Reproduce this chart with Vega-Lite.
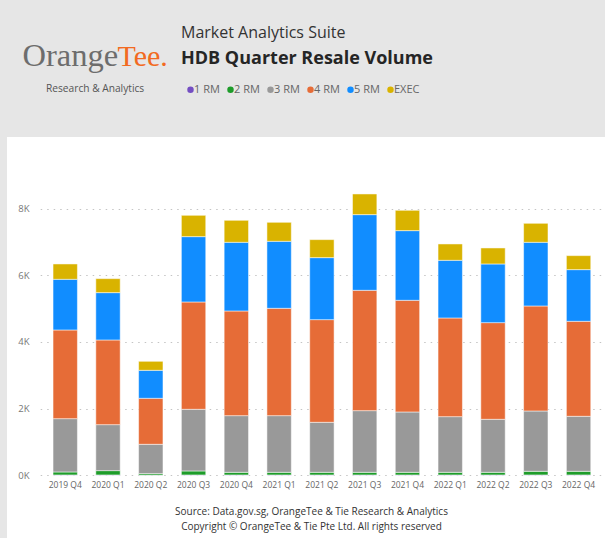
{
  "$schema": "https://vega.github.io/schema/vega-lite/v6.json",
  "width": 598,
  "height": 401,
  "autosize": {"type": "none"},
  "padding": {"left": 7, "top": 137, "right": 0, "bottom": 0},
  "background": "#e6e6e6",
  "view": {"fill": "#ffffff", "stroke": null},
  "config": {"font": "Open Sans"},
  "title": {
    "text": "Market Analytics Suite",
    "subtitle": "HDB Quarter Resale Volume",
    "anchor": "start",
    "frame": "group",
    "orient": "top",
    "dx": 174,
    "offset": -29,
    "font": "Open Sans",
    "fontSize": 16,
    "fontWeight": "normal",
    "color": "#333333",
    "subtitleFont": "Open Sans",
    "subtitleFontSize": 18,
    "subtitleFontWeight": "bold",
    "subtitleColor": "#252525",
    "subtitlePadding": 9.5
  },
  "data": {
    "values": [
      {"quarter": "2019 Q4", "flat": "1 RM", "volume": 10},
      {"quarter": "2019 Q4", "flat": "2 RM", "volume": 90},
      {"quarter": "2019 Q4", "flat": "3 RM", "volume": 1600},
      {"quarter": "2019 Q4", "flat": "4 RM", "volume": 2660},
      {"quarter": "2019 Q4", "flat": "5 RM", "volume": 1520},
      {"quarter": "2019 Q4", "flat": "EXEC", "volume": 460},
      {"quarter": "2020 Q1", "flat": "1 RM", "volume": 10},
      {"quarter": "2020 Q1", "flat": "2 RM", "volume": 130},
      {"quarter": "2020 Q1", "flat": "3 RM", "volume": 1380},
      {"quarter": "2020 Q1", "flat": "4 RM", "volume": 2540},
      {"quarter": "2020 Q1", "flat": "5 RM", "volume": 1420},
      {"quarter": "2020 Q1", "flat": "EXEC", "volume": 420},
      {"quarter": "2020 Q2", "flat": "1 RM", "volume": 5},
      {"quarter": "2020 Q2", "flat": "2 RM", "volume": 45},
      {"quarter": "2020 Q2", "flat": "3 RM", "volume": 880},
      {"quarter": "2020 Q2", "flat": "4 RM", "volume": 1380},
      {"quarter": "2020 Q2", "flat": "5 RM", "volume": 840},
      {"quarter": "2020 Q2", "flat": "EXEC", "volume": 270},
      {"quarter": "2020 Q3", "flat": "1 RM", "volume": 10},
      {"quarter": "2020 Q3", "flat": "2 RM", "volume": 120},
      {"quarter": "2020 Q3", "flat": "3 RM", "volume": 1850},
      {"quarter": "2020 Q3", "flat": "4 RM", "volume": 3220},
      {"quarter": "2020 Q3", "flat": "5 RM", "volume": 1960},
      {"quarter": "2020 Q3", "flat": "EXEC", "volume": 640},
      {"quarter": "2020 Q4", "flat": "1 RM", "volume": 10},
      {"quarter": "2020 Q4", "flat": "2 RM", "volume": 80},
      {"quarter": "2020 Q4", "flat": "3 RM", "volume": 1700},
      {"quarter": "2020 Q4", "flat": "4 RM", "volume": 3140},
      {"quarter": "2020 Q4", "flat": "5 RM", "volume": 2060},
      {"quarter": "2020 Q4", "flat": "EXEC", "volume": 660},
      {"quarter": "2021 Q1", "flat": "1 RM", "volume": 10},
      {"quarter": "2021 Q1", "flat": "2 RM", "volume": 80},
      {"quarter": "2021 Q1", "flat": "3 RM", "volume": 1700},
      {"quarter": "2021 Q1", "flat": "4 RM", "volume": 3220},
      {"quarter": "2021 Q1", "flat": "5 RM", "volume": 2010},
      {"quarter": "2021 Q1", "flat": "EXEC", "volume": 570},
      {"quarter": "2021 Q2", "flat": "1 RM", "volume": 10},
      {"quarter": "2021 Q2", "flat": "2 RM", "volume": 80},
      {"quarter": "2021 Q2", "flat": "3 RM", "volume": 1500},
      {"quarter": "2021 Q2", "flat": "4 RM", "volume": 3080},
      {"quarter": "2021 Q2", "flat": "5 RM", "volume": 1860},
      {"quarter": "2021 Q2", "flat": "EXEC", "volume": 540},
      {"quarter": "2021 Q3", "flat": "1 RM", "volume": 10},
      {"quarter": "2021 Q3", "flat": "2 RM", "volume": 80},
      {"quarter": "2021 Q3", "flat": "3 RM", "volume": 1850},
      {"quarter": "2021 Q3", "flat": "4 RM", "volume": 3610},
      {"quarter": "2021 Q3", "flat": "5 RM", "volume": 2270},
      {"quarter": "2021 Q3", "flat": "EXEC", "volume": 620},
      {"quarter": "2021 Q4", "flat": "1 RM", "volume": 10},
      {"quarter": "2021 Q4", "flat": "2 RM", "volume": 80},
      {"quarter": "2021 Q4", "flat": "3 RM", "volume": 1810},
      {"quarter": "2021 Q4", "flat": "4 RM", "volume": 3350},
      {"quarter": "2021 Q4", "flat": "5 RM", "volume": 2090},
      {"quarter": "2021 Q4", "flat": "EXEC", "volume": 610},
      {"quarter": "2022 Q1", "flat": "1 RM", "volume": 10},
      {"quarter": "2022 Q1", "flat": "2 RM", "volume": 80},
      {"quarter": "2022 Q1", "flat": "3 RM", "volume": 1670},
      {"quarter": "2022 Q1", "flat": "4 RM", "volume": 2960},
      {"quarter": "2022 Q1", "flat": "5 RM", "volume": 1730},
      {"quarter": "2022 Q1", "flat": "EXEC", "volume": 490},
      {"quarter": "2022 Q2", "flat": "1 RM", "volume": 10},
      {"quarter": "2022 Q2", "flat": "2 RM", "volume": 80},
      {"quarter": "2022 Q2", "flat": "3 RM", "volume": 1590},
      {"quarter": "2022 Q2", "flat": "4 RM", "volume": 2900},
      {"quarter": "2022 Q2", "flat": "5 RM", "volume": 1760},
      {"quarter": "2022 Q2", "flat": "EXEC", "volume": 480},
      {"quarter": "2022 Q3", "flat": "1 RM", "volume": 10},
      {"quarter": "2022 Q3", "flat": "2 RM", "volume": 110},
      {"quarter": "2022 Q3", "flat": "3 RM", "volume": 1810},
      {"quarter": "2022 Q3", "flat": "4 RM", "volume": 3150},
      {"quarter": "2022 Q3", "flat": "5 RM", "volume": 1910},
      {"quarter": "2022 Q3", "flat": "EXEC", "volume": 570},
      {"quarter": "2022 Q4", "flat": "1 RM", "volume": 10},
      {"quarter": "2022 Q4", "flat": "2 RM", "volume": 110},
      {"quarter": "2022 Q4", "flat": "3 RM", "volume": 1650},
      {"quarter": "2022 Q4", "flat": "4 RM", "volume": 2850},
      {"quarter": "2022 Q4", "flat": "5 RM", "volume": 1550},
      {"quarter": "2022 Q4", "flat": "EXEC", "volume": 420}
    ]
  },
  "layer": [
    {
      "mark": {"type": "bar", "stroke": "#ffffff", "strokeWidth": 1, "strokeOpacity": 0.5},
      "encoding": {
        "x": {
          "field": "quarter",
          "type": "nominal",
          "sort": null,
          "scale": {"range": [33.2, 596.6], "paddingInner": 0.43, "paddingOuter": 0.3},
          "axis": {
            "offset": -62.7,
            "labelAngle": 0,
            "labelFontSize": 8.5,
            "labelColor": "#666666",
            "labelPadding": 5,
            "domain": false,
            "ticks": false,
            "tickSize": 0,
            "grid": false,
            "title": ["Source: Data.gov.sg, OrangeTee & Tie Research & Analytics", "Copyright © OrangeTee & Tie Pte Ltd. All rights reserved"],
            "titleX": 304,
            "titleY": 31,
            "titleAlign": "center",
            "titleBaseline": "top",
            "titleFontSize": 10,
            "titleFontWeight": "normal",
            "titleColor": "#333333",
            "titleLineHeight": 15
          }
        },
        "y": {
          "field": "volume",
          "type": "quantitative",
          "stack": "zero",
          "scale": {"domain": [0, 9000], "range": [338.3, 38.3], "nice": false},
          "axis": {
            "values": [0, 2000, 4000, 6000, 8000],
            "labelExpr": "datum.value / 1000 + 'K'",
            "offset": -26,
            "labelPadding": 4,
            "labelFontSize": 9.5,
            "labelColor": "#777777",
            "domain": false,
            "ticks": false,
            "tickSize": 0,
            "grid": true,
            "gridDash": [1.5, 5],
            "gridColor": "#c4c4c4",
            "gridWidth": 1,
            "title": "Orange",
            "titleAngle": 0,
            "titleX": -11,
            "titleY": -72,
            "titleAlign": "left",
            "titleBaseline": "alphabetic",
            "titleFont": "Liberation Serif",
            "titleFontSize": 32.5,
            "titleFontWeight": "normal",
            "titleColor": "#6d6d6d"
          }
        },
        "color": {
          "field": "flat",
          "type": "nominal",
          "scale": {
            "domain": ["1 RM", "2 RM", "3 RM", "4 RM", "5 RM", "EXEC"],
            "range": ["#744EC2", "#1E9C2A", "#999999", "#E66C37", "#118DFF", "#D9B300"]
          },
          "legend": {
            "orient": "none",
            "legendX": 39,
            "legendY": -53,
            "direction": "horizontal",
            "title": "Research & Analytics",
            "titleOrient": "left",
            "titleFontSize": 10.2,
            "titleFontWeight": "normal",
            "titleColor": "#555555",
            "titlePadding": 40,
            "symbolType": "circle",
            "symbolSize": 42,
            "symbolStrokeWidth": 0,
            "labelFontSize": 11,
            "labelColor": "#666666",
            "labelOffset": -2,
            "columnPadding": 5
          }
        },
        "order": {"field": "flat", "sort": "ascending"}
      }
    },
    {
      "mark": {"type": "rule", "opacity": 0},
      "encoding": {
        "y": {
          "datum": 0,
          "type": "quantitative",
          "axis": {
            "orient": "left",
            "offset": 0,
            "labels": false,
            "domain": false,
            "ticks": false,
            "grid": false,
            "title": "Tee.",
            "titleAngle": 0,
            "titleX": 110,
            "titleY": -72,
            "titleAlign": "left",
            "titleBaseline": "alphabetic",
            "titleFont": "Liberation Serif",
            "titleFontSize": 30,
            "titleFontWeight": "normal",
            "titleColor": "#F26A21"
          }
        }
      }
    }
  ],
  "resolve": {"axis": {"y": "independent"}}
}
